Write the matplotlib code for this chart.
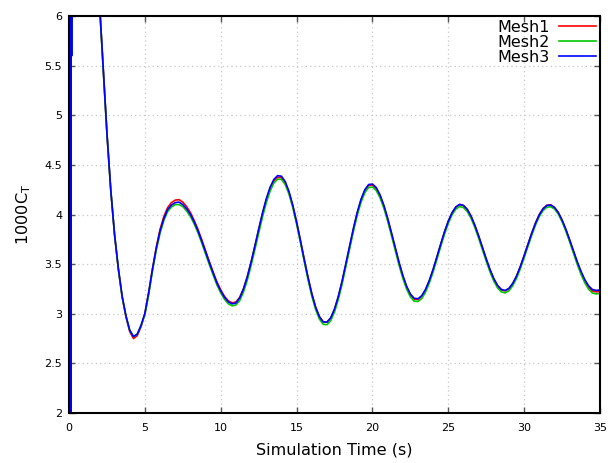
import matplotlib
matplotlib.use("Agg")
import matplotlib.pyplot as plt

# simulation time (s): start-up spike, then samples every 0.25 s
time = [0.08, 0.1, 0.13, 0.15, 0.17, 0.2, 0.4, 0.75, 1.25, 1.75,
        2.0, 2.25, 2.5, 2.75, 3.0, 3.25, 3.5, 3.75, 4.0, 4.25, 4.5, 4.75,
        5.0, 5.25, 5.5, 5.75, 6.0, 6.25, 6.5, 6.75, 7.0, 7.25, 7.5, 7.75,
        8.0, 8.25, 8.5, 8.75, 9.0, 9.25, 9.5, 9.75, 10.0, 10.25, 10.5, 10.75,
        11.0, 11.25, 11.5, 11.75, 12.0, 12.25, 12.5, 12.75, 13.0, 13.25, 13.5, 13.75,
        14.0, 14.25, 14.5, 14.75, 15.0, 15.25, 15.5, 15.75, 16.0, 16.25, 16.5, 16.75,
        17.0, 17.25, 17.5, 17.75, 18.0, 18.25, 18.5, 18.75, 19.0, 19.25, 19.5, 19.75,
        20.0, 20.25, 20.5, 20.75, 21.0, 21.25, 21.5, 21.75, 22.0, 22.25, 22.5, 22.75,
        23.0, 23.25, 23.5, 23.75, 24.0, 24.25, 24.5, 24.75, 25.0, 25.25, 25.5, 25.75,
        26.0, 26.25, 26.5, 26.75, 27.0, 27.25, 27.5, 27.75, 28.0, 28.25, 28.5, 28.75,
        29.0, 29.25, 29.5, 29.75, 30.0, 30.25, 30.5, 30.75, 31.0, 31.25, 31.5, 31.75,
        32.0, 32.25, 32.5, 32.75, 33.0, 33.25, 33.5, 33.75, 34.0, 34.25, 34.5, 34.75,
        35.0]

# 1000*C_T for each mesh
mesh1 = [1.0, 9.0, 1.0, 9.0, 5.6, 14.0, 20.0, 14.0, 9.5, 6.9,
         6.15, 5.48, 4.82, 4.25, 3.80, 3.45, 3.17, 2.97, 2.82, 2.75, 2.78, 2.87,
         3.00, 3.21, 3.45, 3.67, 3.85, 3.98, 4.07, 4.12, 4.145, 4.15, 4.125, 4.08,
         4.02, 3.94, 3.85, 3.745, 3.635, 3.525, 3.42, 3.32, 3.24, 3.175, 3.13, 3.11,
         3.118, 3.165, 3.252, 3.372, 3.518, 3.678, 3.844, 4.003, 4.144, 4.259, 4.338, 4.377,
         4.371, 4.318, 4.221, 4.086, 3.922, 3.740, 3.550, 3.369, 3.204, 3.069, 2.972, 2.919,
         2.914, 2.956, 3.043, 3.168, 3.322, 3.497, 3.678, 3.854, 4.014, 4.145, 4.240, 4.292,
         4.297, 4.262, 4.189, 4.085, 3.956, 3.810, 3.659, 3.512, 3.379, 3.269, 3.190, 3.147,
         3.143, 3.174, 3.238, 3.330, 3.442, 3.568, 3.698, 3.822, 3.931, 4.017, 4.075, 4.100,
         4.090, 4.050, 3.981, 3.889, 3.781, 3.665, 3.549, 3.441, 3.349, 3.280, 3.240, 3.230,
         3.252, 3.303, 3.378, 3.475, 3.585, 3.700, 3.812, 3.915, 4.000, 4.061, 4.094, 4.098,
         4.071, 4.019, 3.942, 3.847, 3.739, 3.626, 3.515, 3.415, 3.330, 3.267, 3.229, 3.220,
         3.225]

mesh2 = [1.0, 9.0, 1.0, 9.0, 5.6, 14.0, 20.0, 14.0, 9.5, 6.9,
         6.15, 5.47, 4.81, 4.25, 3.80, 3.45, 3.17, 2.98, 2.835, 2.77, 2.795, 2.88,
         2.99, 3.19, 3.43, 3.64, 3.81, 3.94, 4.03, 4.075, 4.10, 4.10, 4.08, 4.035,
         3.98, 3.905, 3.815, 3.712, 3.603, 3.494, 3.39, 3.29, 3.21, 3.145, 3.10, 3.08,
         3.088, 3.132, 3.218, 3.338, 3.485, 3.645, 3.812, 3.973, 4.117, 4.235, 4.316, 4.357,
         4.354, 4.302, 4.205, 4.07, 3.905, 3.722, 3.530, 3.347, 3.18, 3.045, 2.947, 2.894,
         2.889, 2.93, 3.018, 3.144, 3.299, 3.475, 3.656, 3.833, 3.994, 4.125, 4.22, 4.272,
         4.277, 4.242, 4.169, 4.065, 3.936, 3.79, 3.639, 3.492, 3.359, 3.249, 3.17, 3.127,
         3.123, 3.154, 3.218, 3.31, 3.422, 3.548, 3.678, 3.802, 3.911, 3.997, 4.055, 4.08,
         4.07, 4.03, 3.961, 3.869, 3.761, 3.645, 3.529, 3.421, 3.329, 3.26, 3.22, 3.21,
         3.232, 3.283, 3.358, 3.455, 3.565, 3.68, 3.792, 3.895, 3.98, 4.041, 4.074, 4.078,
         4.056, 4.004, 3.927, 3.832, 3.724, 3.61, 3.497, 3.396, 3.311, 3.247, 3.209, 3.20,
         3.205]

mesh3 = [1.0, 9.0, 1.0, 9.0, 5.6, 14.0, 20.0, 14.0, 9.5, 6.9,
         6.15, 5.48, 4.82, 4.25, 3.80, 3.46, 3.18, 2.98, 2.835, 2.77, 2.795, 2.885,
         3.005, 3.215, 3.45, 3.66, 3.835, 3.96, 4.05, 4.095, 4.12, 4.125, 4.10, 4.058,
         4.003, 3.925, 3.836, 3.733, 3.624, 3.515, 3.41, 3.31, 3.23, 3.165, 3.12, 3.10,
         3.108, 3.16, 3.25, 3.372, 3.52, 3.683, 3.852, 4.015, 4.158, 4.274, 4.353, 4.392,
         4.386, 4.332, 4.232, 4.093, 3.925, 3.741, 3.55, 3.368, 3.203, 3.068, 2.971, 2.918,
         2.916, 2.959, 3.048, 3.175, 3.33, 3.506, 3.687, 3.864, 4.024, 4.155, 4.25, 4.302,
         4.307, 4.272, 4.198, 4.094, 3.965, 3.819, 3.668, 3.521, 3.388, 3.278, 3.199, 3.156,
         3.151, 3.182, 3.246, 3.337, 3.449, 3.574, 3.703, 3.826, 3.934, 4.019, 4.077, 4.102,
         4.092, 4.052, 3.984, 3.892, 3.785, 3.669, 3.554, 3.446, 3.354, 3.285, 3.245, 3.235,
         3.256, 3.306, 3.381, 3.477, 3.586, 3.70, 3.811, 3.913, 3.997, 4.058, 4.091, 4.095,
         4.071, 4.02, 3.944, 3.851, 3.745, 3.634, 3.525, 3.427, 3.343, 3.281, 3.244, 3.235,
         3.24]

labels = ["Mesh1", "Mesh2", "Mesh3"]
colors = ["#ff0000", "#00c800", "#0000ff"]

fig = plt.figure(figsize=(6.13, 4.63), dpi=100)
ax = fig.add_axes([0.1126, 0.108, 0.8662, 0.8574])

for y, lab, c in zip([mesh1, mesh2, mesh3], labels, colors):
    ax.plot(time, y, color=c, lw=1.2, label=lab)

ax.set_xlim(0, 35)
ax.set_ylim(2, 6)
ax.set_xticks([0, 5, 10, 15, 20, 25, 30, 35])
ax.set_yticks([2, 2.5, 3, 3.5, 4, 4.5, 5, 5.5, 6])
ax.set_yticklabels(["2", "2.5", "3", "3.5", "4", "4.5", "5", "5.5", "6"])

ax.grid(True, linestyle=(0, (1, 2.5)), color="#c8c8c8", lw=0.9)
ax.tick_params(direction="in", top=True, right=True, length=4, width=1,
               color="#555555", labelsize=8, pad=5)
ax.tick_params(axis="x", pad=7)
for s in ax.spines.values():
    s.set_linewidth(1.5)

ax.set_xlabel("Simulation Time (s)", fontsize=11.6, labelpad=7)
ax.set_ylabel("1000C$_\\mathrm{T}$", fontsize=11.6, labelpad=8)

leg = ax.legend(loc="upper right", frameon=False, markerfirst=False,
                fontsize=11.5, labelspacing=0.0, handlelength=2.3,
                borderaxespad=0.1, borderpad=0.15, handletextpad=0.6)

fig.savefig("out.png", dpi=100)
